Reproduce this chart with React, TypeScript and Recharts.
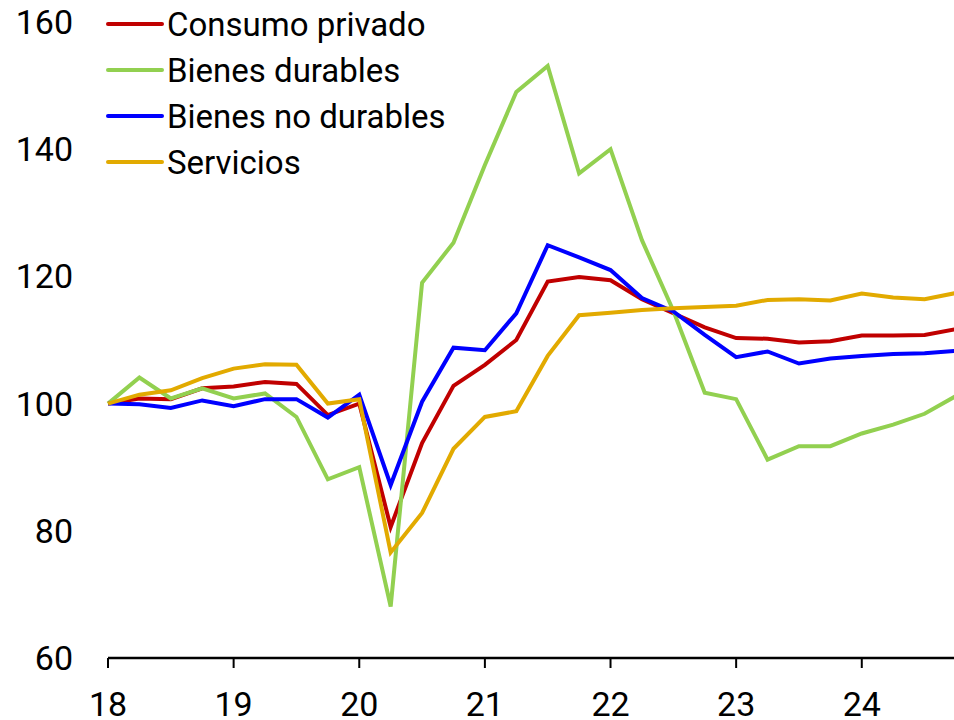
import React from "react";
import { LineChart, Line, XAxis, YAxis } from "recharts";

const quarters = [
  "2018T1", "2018T2", "2018T3", "2018T4",
  "2019T1", "2019T2", "2019T3", "2019T4",
  "2020T1", "2020T2", "2020T3", "2020T4",
  "2021T1", "2021T2", "2021T3", "2021T4",
  "2022T1", "2022T2", "2022T3", "2022T4",
  "2023T1", "2023T2", "2023T3", "2023T4",
  "2024T1", "2024T2", "2024T3", "2024T4",
];

const consumoPrivado = [
  100, 100.8, 100.7, 102.4, 102.7, 103.4, 103.1, 98.2, 100.0, 80.6, 93.8, 102.8, 106.1, 110.0,
  119.2, 119.9, 119.4, 116.4, 114.2, 112.0, 110.3, 110.2, 109.6, 109.8, 110.7, 110.7, 110.8, 111.7,
];
const bienesDurables = [
  100, 104.1, 100.8, 102.4, 100.8, 101.6, 97.9, 88.1, 90.0, 68.1, 119.0, 125.3, 137.5, 149.0,
  153.1, 136.2, 140.0, 125.7, 114.6, 101.7, 100.7, 91.2, 93.3, 93.3, 95.3, 96.7, 98.4, 101.2,
];
const bienesNoDurables = [
  100, 99.9, 99.3, 100.5, 99.6, 100.7, 100.7, 97.8, 101.4, 87.2, 100.3, 108.8, 108.4, 114.2,
  124.9, 123.0, 121.0, 116.6, 114.5, 110.8, 107.3, 108.2, 106.3, 107.1, 107.5, 107.8, 107.9, 108.3,
];
const servicios = [
  100, 101.4, 102.1, 104.0, 105.5, 106.2, 106.1, 100.0, 100.7, 76.6, 82.8, 92.9, 97.9, 98.8,
  107.5, 113.9, 114.3, 114.7, 115.0, 115.2, 115.4, 116.3, 116.4, 116.2, 117.3, 116.7, 116.4, 117.4,
];

const yearTicks = [0, 4, 8, 12, 16, 20, 24];
const yearLabels = ["18", "19", "20", "21", "22", "23", "24"];
const yTicks = [60, 80, 100, 120, 140, 160];

const seriesNames = ["Consumo privado", "Bienes durables", "Bienes no durables", "Servicios"];
const seriesKeys = ["consumo", "durables", "noDurables", "servicios"];
const seriesColors = ["#C00000", "#92D050", "#0000FF", "#E2AA00"];

const data = quarters.map((q, i) => ({
  idx: i,
  q,
  consumo: consumoPrivado[i],
  durables: bienesDurables[i],
  noDurables: bienesNoDurables[i],
  servicios: servicios[i],
}));

const FONT = "Roboto, 'Noto Sans', sans-serif";

export default function App() {
  return (
    <div
      style={{
        position: "absolute",
        left: 0,
        top: 0,
        width: 954,
        height: 720,
        overflow: "hidden",
        background: "#fff",
      }}
    >
      <LineChart
        width={960}
        height={720}
        data={data}
        margin={{ top: 22, right: 4, left: 0, bottom: 0 }}
      >
        <XAxis
          dataKey="idx"
          type="number"
          domain={[0, 27]}
          ticks={yearTicks}
          tickFormatter={(v: number) => yearLabels[yearTicks.indexOf(v)] ?? ""}
          height={62}
          axisLine={{ stroke: "#000", strokeWidth: 2.5 }}
          tickLine={{ stroke: "#000", strokeWidth: 2 }}
          tickSize={10}
          tickMargin={24}
          tick={{ fill: "#000", fontSize: 34, fontFamily: FONT }}
          interval={0}
        />
        <YAxis
          domain={[60, 160]}
          ticks={yTicks}
          width={108}
          axisLine={false}
          tickLine={false}
          tickSize={0}
          tickMargin={35}
          tick={{ fill: "#000", fontSize: 34, fontFamily: FONT }}
          interval={0}
        />
        {seriesKeys.map((k, i) => (
          <Line
            key={k}
            type="linear"
            dataKey={k}
            stroke={seriesColors[i]}
            strokeWidth={4}
            dot={false}
            activeDot={false}
            isAnimationActive={false}
          />
        ))}
      </LineChart>
      <svg
        width={954}
        height={200}
        style={{ position: "absolute", left: 0, top: 0, pointerEvents: "none" }}
      >
        {seriesNames.map((name, i) => (
          <g key={name}>
            <line
              x1={108}
              x2={162}
              y1={24 + i * 46}
              y2={24 + i * 46}
              stroke={seriesColors[i]}
              strokeWidth={4}
              strokeLinecap="round"
            />
            <text
              x={167}
              y={35.7 + i * 46}
              fontSize={33}
              fontFamily={FONT}
              fill="#000"
            >
              {name}
            </text>
          </g>
        ))}
      </svg>
    </div>
  );
}
